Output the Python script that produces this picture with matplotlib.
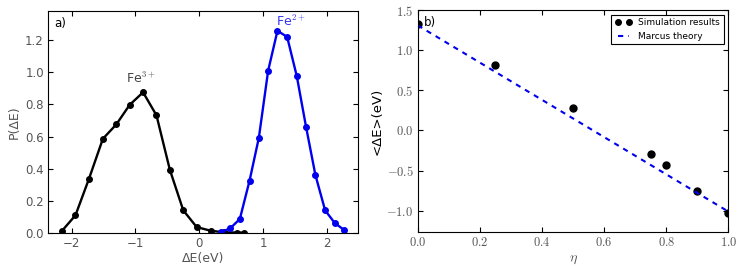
import matplotlib
matplotlib.use('Agg')
import matplotlib.pyplot as plt
from matplotlib.ticker import FuncFormatter

plt.rcParams['mathtext.fontset'] = 'cm'

# panel a) distributions
de_fe3 = [-2.15, -1.94, -1.73, -1.51, -1.30, -1.09, -0.88, -0.67, -0.46, -0.25, -0.04, 0.18, 0.39, 0.60, 0.71]
p_fe3 = [0.014, 0.11, 0.335, 0.586, 0.675, 0.797, 0.875, 0.732, 0.393, 0.141, 0.037, 0.014, 0.004, 0.003, 0.002]
de_fe2 = [0.335, 0.486, 0.637, 0.789, 0.935, 1.081, 1.227, 1.379, 1.530, 1.676, 1.822, 1.974, 2.125, 2.272]
p_fe2 = [0.004, 0.029, 0.087, 0.325, 0.592, 1.01, 1.258, 1.219, 0.975, 0.658, 0.360, 0.141, 0.062, 0.019]

# panel b) mean energy gap vs eta
eta = [0.0, 0.25, 0.5, 0.75, 0.8, 0.9, 1.0]
mean_de = [1.326, 0.82, 0.278, -0.294, -0.435, -0.75, -1.03]
eta_theory = [0.0, 1.0]
mean_theory = [1.31, -1.01]

grey = '#555555'

fig = plt.figure(figsize=(7.47, 2.68), dpi=100)
ax1 = fig.add_axes([0.0643, 0.1306, 0.415, 0.828])
ax2 = fig.add_axes([0.5592, 0.1343, 0.4158, 0.828])

ax1.plot(de_fe3, p_fe3, '-o', color='black', lw=1.7, ms=4)
ax1.plot(de_fe2, p_fe2, '-o', color='#0000ee', lw=1.7, ms=4)
ax1.set_xlim(-2.37, 2.49)
ax1.set_ylim(0, 1.38)
ax1.set_xticks([-2, -1, 0, 1, 2])
ax1.set_yticks([0.0, 0.2, 0.4, 0.6, 0.8, 1.0, 1.2])
ax1.set_xlabel('ΔE(eV)', fontsize=9, color=grey, labelpad=1)
ax1.set_ylabel('P(ΔE)', fontsize=9, color=grey, labelpad=3)
ax1.tick_params(direction='in', top=True, right=True, length=3.5, labelsize=8.5,
                labelcolor=grey, pad=3)
ax1.text(-0.92, 0.93, 'Fe$^{3+}$', color='#444444', fontsize=9, ha='center')
ax1.text(1.43, 1.29, 'Fe$^{2+}$', color='#3333ee', fontsize=9, ha='center')
ax1.text(0.02, 0.975, 'a)', transform=ax1.transAxes, fontsize=8.5, va='top')

ax2.plot(eta, mean_de, 'o', color='black', ms=5, label='Simulation results')
ax2.plot(eta_theory, mean_theory, '--', color='#0000ee', lw=1.5, dashes=(2.5, 2.5),
         label='Marcus theory')
ax2.set_xlim(0, 1.0)
ax2.set_ylim(-1.265, 1.5)
ax2.set_xticks([0.0, 0.2, 0.4, 0.6, 0.8, 1.0])
ax2.set_yticks([-1.0, -0.5, 0.0, 0.5, 1.0, 1.5])
fmt = FuncFormatter(lambda v, p: r'$%.1f$' % v)
ax2.xaxis.set_major_formatter(fmt)
ax2.yaxis.set_major_formatter(fmt)
ax2.tick_params(direction='in', top=True, right=True, length=3.5, labelsize=9,
                labelcolor=grey, pad=3)
ax2.set_xlabel(r'$\eta$', fontsize=10, color=grey, labelpad=2)
ax2.set_ylabel('<ΔE>(eV)', fontsize=9.5, labelpad=2)
ax2.text(0.02, 0.975, 'b)', transform=ax2.transAxes, fontsize=8.5, va='top')
leg = ax2.legend(loc='upper right', numpoints=2, fontsize=6.5, fancybox=False,
                 framealpha=1, edgecolor='black', borderaxespad=0.5,
                 handlelength=1.8, markerscale=0.8)
leg.get_frame().set_linewidth(0.8)

fig.savefig('out.png', dpi=100)
